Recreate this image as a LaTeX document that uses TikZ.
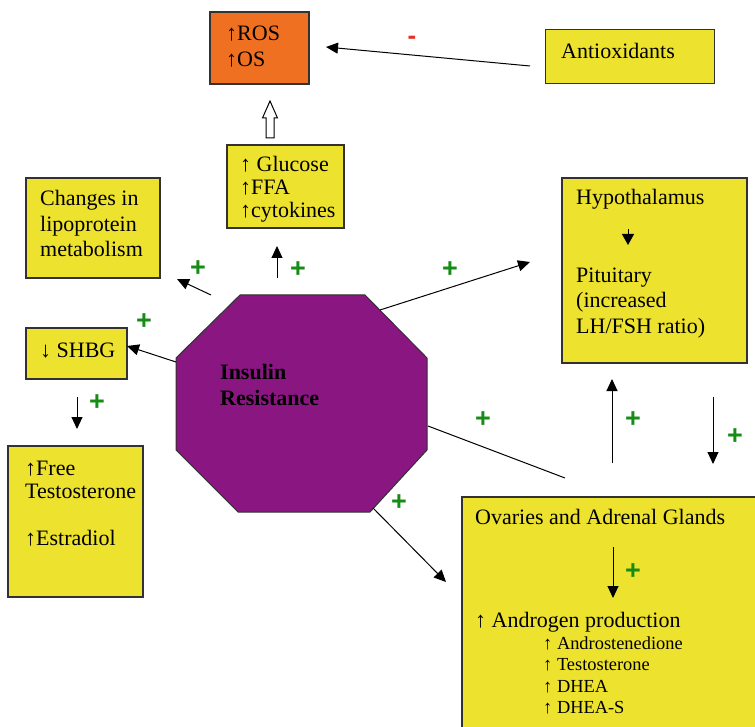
\documentclass[tikz,border=0pt]{standalone}
\usepackage{fontspec}
\setmainfont{Liberation Serif}
\newfontfamily\signfont{Liberation Sans}
\usetikzlibrary{arrows.meta}
\definecolor{boxyellow}{RGB}{237,226,46}
\definecolor{rosorange}{RGB}{240,112,34}
\definecolor{irpurple}{RGB}{138,22,130}
\definecolor{plusgreen}{RGB}{22,140,22}
\definecolor{minusred}{RGB}{232,48,40}
\definecolor{edgegray}{RGB}{50,50,50}
\begin{document}
\begin{tikzpicture}[x=1pt,y=-1pt,
  ybox/.style={draw=edgegray,line width=1.1pt,fill=boxyellow,inner sep=0pt},
  txt/.style={anchor=base west,inner sep=0pt,font=\fontsize{22}{24}\selectfont},
  smalltxt/.style={anchor=base west,inner sep=0pt,font=\fontsize{18.4}{20}\selectfont},
  irtxt/.style={anchor=base west,inner sep=0pt,font=\fontsize{22}{24}\selectfont\bfseries},
  plussign/.style={inner sep=0pt,text=plusgreen,font=\signfont\fontsize{27}{27}\selectfont\bfseries},
  minussign/.style={inner sep=0pt,text=minusred,font=\signfont\fontsize{26}{26}\selectfont\bfseries},
  conn/.style={line width=1pt,-{Triangle[length=12pt,width=11pt]}},
  plainline/.style={line width=1pt}
]
\useasboundingbox (0,0) rectangle (755,727);
\clip (0,0) rectangle (755,727);

% boxes
\node[ybox,fill=rosorange,minimum width=99pt,minimum height=72pt] (ros) at (259.5,48) {};
\node[ybox,minimum width=169pt,minimum height=54pt] (anti) at (630,56.5) {};
\node[ybox,minimum width=117pt,minimum height=83pt] (gluc) at (285.5,186.5) {};
\node[ybox,minimum width=134pt,minimum height=100pt] (chg) at (93,228) {};
\node[ybox,minimum width=101pt,minimum height=51pt] (shbg) at (76.5,353.5) {};
\node[ybox,minimum width=135pt,minimum height=151pt] (free) at (75.5,521.5) {};
\node[ybox,minimum width=185pt,minimum height=185pt] (hyp) at (654.5,270.5) {};
\node[ybox,minimum width=310pt,minimum height=250pt] (ova) at (617,622) {};

% octagon
\draw[draw=edgegray,line width=1pt,fill=irpurple]
  (240,295) -- (365,295) -- (427,358) -- (427,450) -- (370,512) -- (238,512) -- (176,450) -- (176,358) -- cycle;

% texts
\node[txt] (t1) at (226,41) {↑ROS};
\node[txt] (t2) at (226,67) {↑OS};
\node[txt] (t3) at (561,59) {Antioxidants};
\node[txt] (t4) at (240,172) {↑ Glucose};
\node[txt] (t5) at (240,195) {↑FFA};
\node[txt] (t6) at (240,218) {↑cytokines};
\node[txt] (t7) at (40,206) {Changes in};
\node[txt] (t8) at (40,232) {lipoprotein};
\node[txt] (t9) at (40,257) {metabolism};
\node[txt] (t10) at (40,357) {↓ SHBG};
\node[irtxt] (t11) at (220,379) {Insulin};
\node[irtxt] (t12) at (220,405) {Resistance};
\node[txt] (t13) at (25,475) {↑Free};
\node[txt] (t14) at (25,498) {Testosterone};
\node[txt] (t15) at (25,545) {↑Estradiol};
\node[txt] (t16) at (576,205) {Hypothalamus};
\node[txt] (t17) at (576,283) {Pituitary};
\node[txt] (t18) at (576,308) {(increased};
\node[txt] (t19) at (576,334) {LH/FSH ratio)};
\node[txt] (t20) at (475,524) {Ovaries and Adrenal Glands};
\node[txt] (t21) at (475,627) {↑ Androgen production};
\node[smalltxt] (t22) at (543,649) {↑ Androstenedione};
\node[smalltxt] (t23) at (543,670) {↑ Testosterone};
\node[smalltxt] (t24) at (543,692) {↑ DHEA};
\node[smalltxt] (t25) at (543,713) {↑ DHEA-S};

% connector end points
\coordinate (a1s) at (530,66);   \coordinate (a1e) at (326,47);
\coordinate (a2s) at (211,295);  \coordinate (a2e) at (177,279);
\coordinate (a3s) at (277,278);  \coordinate (a3e) at (277,246);
\coordinate (a4s) at (176,362);  \coordinate (a4e) at (127,346);
\coordinate (a5s) at (77,397);   \coordinate (a5e) at (77,429);
\coordinate (a6s) at (380,310);  \coordinate (a6e) at (530,262);
\coordinate (a7s) at (428,426);  \coordinate (a7e) at (565,478);
\coordinate (a8s) at (612,463);  \coordinate (a8e) at (612,379);
\coordinate (a9s) at (713,397);  \coordinate (a9e) at (713,464);
\coordinate (a10s) at (373,508); \coordinate (a10e) at (446,582);
\coordinate (a11s) at (613,547); \coordinate (a11e) at (613,598);
\coordinate (a12s) at (628,229); \coordinate (a12e) at (628,245);

\draw[conn] (a1s) -- (a1e);
\draw[conn] (a2s) -- (a2e);
\draw[conn] (a3s) -- (a3e);
\draw[conn] (a4s) -- (a4e);
\draw[conn] (a5s) -- (a5e);
\draw[conn] (a6s) -- (a6e);
\draw[plainline] (a7s) -- (a7e);
\draw[conn] (a8s) -- (a8e);
\draw[conn] (a9s) -- (a9e);
\draw[conn] (a10s) -- (a10e);
\draw[conn] (a11s) -- (a11e);
\draw[line width=1pt,-{Triangle[length=11pt,width=12pt]}] (a12s) -- (a12e);

% hollow arrow (Glucose -> ROS)
\coordinate (ha) at (270,101);
\draw[line width=1pt,fill=white,line join=miter]
  (ha) -- ++(7.5,17) -- ++(-3.5,0) -- ++(0,20) -- ++(-8,0) -- ++(0,-20) -- ++(-3.5,0) -- cycle;

% signs
\node[plussign] (p1) at (198,269) {+};
\node[plussign] (p2) at (298,270) {+};
\node[plussign] (p3) at (144,322) {+};
\node[plussign] (p4) at (97,403) {+};
\node[plussign] (p5) at (450,270) {+};
\node[plussign] (p6) at (483,420) {+};
\node[plussign] (p7) at (633,420) {+};
\node[plussign] (p8) at (735,437) {+};
\node[plussign] (p9) at (399,503) {+};
\node[plussign] (p10) at (633,572) {+};
\node[minussign] (m1) at (412,40) {-};
\end{tikzpicture}
\end{document}
